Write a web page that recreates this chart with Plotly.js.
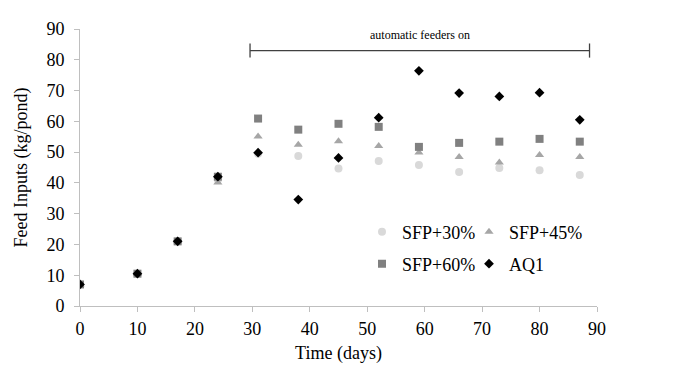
<!DOCTYPE html>
<html>
<head>
<meta charset="utf-8">
<script src="https://cdn.plot.ly/plotly-3.0.1.min.js"></script>
<style>html,body{margin:0;padding:0;background:#fff}#chart{width:695px;height:375px}</style>
</head>
<body>
<div id="chart"></div>
<script>
const days = [0, 10, 17, 24, 31, 38, 45, 52, 59, 66, 73, 80, 87];
const sfp30 = [7, 10.5, 21, 41, 49.5, 48.7, 44.7, 47.1, 45.8, 43.5, 44.8, 44.1, 42.6];
const sfp45 = [7, 10.5, 21, 40.1, 55.1, 52.4, 53.5, 52.0, 49.9, 48.4, 46.6, 49.1, 48.4];
const sfp60 = [7, 10.5, 21, 42, 60.9, 57.3, 59.2, 58.2, 51.7, 53.0, 53.4, 54.3, 53.4];
const aq1   = [7, 10.5, 21, 42, 49.8, 34.6, 48.1, 61.2, 76.4, 69.2, 68.1, 69.3, 60.5];
const seriesNames = ['SFP+30%', 'SFP+45%', 'SFP+60%', 'AQ1'];
const tickVals = [0, 10, 20, 30, 40, 50, 60, 70, 80, 90];
const feederStart = 29.6, feederEnd = 88.7, feederLevel = 83;
const feederLabel = 'automatic feeders on';

const serif = 'Liberation Serif, Times New Roman, serif';
const traces = [
  {x: days, y: sfp30, name: seriesNames[0], mode: 'markers', type: 'scatter', legend: 'legend',
   marker: {symbol: 'circle', size: 8, color: '#d9d9d9'}},
  {x: days, y: sfp45, name: seriesNames[1], mode: 'markers', type: 'scatter', legend: 'legend2',
   marker: {symbol: 'triangle-up', size: 8, color: '#a6a6a6'}},
  {x: days, y: sfp60, name: seriesNames[2], mode: 'markers', type: 'scatter', legend: 'legend3',
   marker: {symbol: 'square', size: 8, color: '#808080'}},
  {x: days, y: aq1, name: seriesNames[3], mode: 'markers', type: 'scatter', legend: 'legend4',
   marker: {symbol: 'diamond', size: 7.5, color: '#000000'}}
];
const tickH = 2.3;
const legFont = {family: serif, size: 18, color: '#000'};
function leg(xp, yp) {
  return {orientation: 'h', x: xp, y: yp, xref: 'paper', yref: 'paper', xanchor: 'left', yanchor: 'middle',
    font: legFont, bgcolor: 'rgba(0,0,0,0)'};
}
const pw = 517, ph = 277;
const layout = {
  width: 695, height: 375,
  margin: {l: 80, r: 98, t: 29, b: 69},
  paper_bgcolor: '#fff', plot_bgcolor: '#fff',
  font: {family: serif, size: 18, color: '#000'},
  showlegend: true,
  xaxis: {range: [0, 90], tickvals: tickVals, showgrid: false, zeroline: false,
    showline: true, linecolor: '#bfbfbf', linewidth: 1, ticks: 'outside', ticklen: 5, tickcolor: '#bfbfbf',
    tickfont: {family: serif, size: 18, color: '#000'}, ticklabelstandoff: 1,
    title: {text: 'Time (days)', font: {family: serif, size: 18, color: '#000'}, standoff: 8}},
  yaxis: {range: [0, 90], tickvals: tickVals, showgrid: false, zeroline: false,
    showline: true, linecolor: '#bfbfbf', linewidth: 1, ticks: 'outside', ticklen: 5, tickcolor: '#bfbfbf',
    tickfont: {family: serif, size: 18, color: '#000'}, ticklabelstandoff: 6,
    title: {text: 'Feed Inputs (kg/pond)', font: {family: serif, size: 18, color: '#000'}, standoff: 14}},
  legend: leg((362 - 80) / pw, (306 - 232) / ph),
  legend2: leg((469 - 80) / pw, (306 - 232) / ph),
  legend3: leg((362 - 80) / pw, (306 - 264) / ph),
  legend4: leg((469 - 80) / pw, (306 - 264) / ph),
  shapes: [
    {type: 'line', xref: 'x', yref: 'y', x0: feederStart, x1: feederEnd, y0: feederLevel, y1: feederLevel,
     line: {color: '#404040', width: 1.3}},
    {type: 'line', xref: 'x', yref: 'y', x0: feederStart, x1: feederStart, y0: feederLevel - tickH, y1: feederLevel + tickH,
     line: {color: '#404040', width: 1.3}},
    {type: 'line', xref: 'x', yref: 'y', x0: feederEnd, x1: feederEnd, y0: feederLevel - tickH, y1: feederLevel + tickH,
     line: {color: '#404040', width: 1.3}}
  ],
  annotations: [
    {text: feederLabel, xref: 'x', yref: 'y', x: (feederStart + feederEnd) / 2, y: feederLevel, yshift: 16,
     showarrow: false, font: {family: serif, size: 12, color: '#000'}}
  ]
};
Plotly.newPlot('chart', traces, layout, {displayModeBar: false, staticPlot: true});
</script>
</body>
</html>
